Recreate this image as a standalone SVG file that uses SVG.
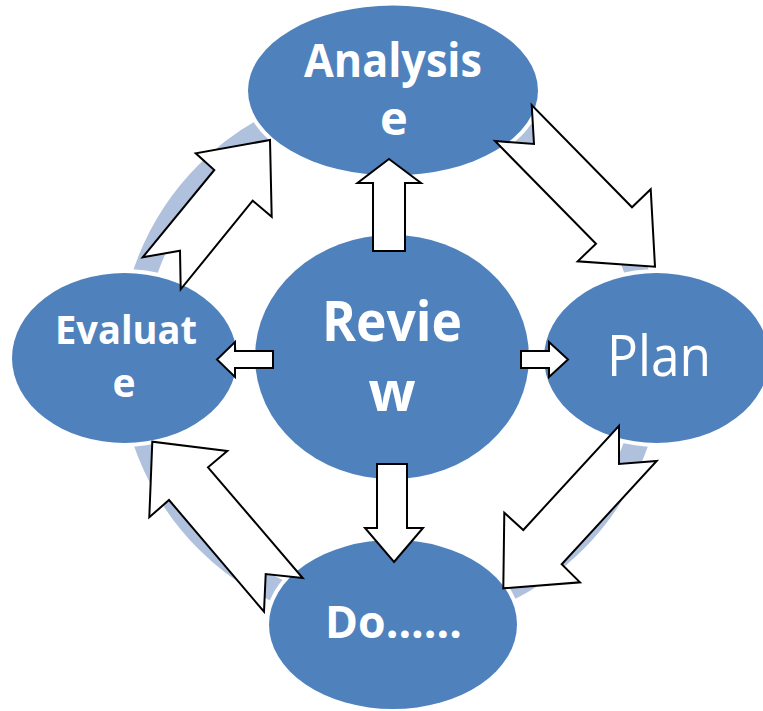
<svg xmlns="http://www.w3.org/2000/svg" width="763" height="711" viewBox="0 0 763 711">
  <style>
    .node { fill: #4f81bd; }
    .halo { stroke: #ffffff; stroke-width: 8; paint-order: stroke; }
    .arrow { fill: #ffffff; stroke: #000000; stroke-width: 2; stroke-linejoin: miter; }
    .lbl { fill: #ffffff; font-family: "Open Sans", "Noto Sans", sans-serif; text-anchor: middle; }
    .b { font-weight: bold; }
  </style>
  <rect width="763" height="711" fill="#ffffff"/>
  <g id="ring">
    <circle cx="391" cy="357" r="260" fill="none" stroke="#b0c1dd" stroke-width="24"/>
  </g>
  <g id="node-review">
    <ellipse class="node" cx="392" cy="357" rx="137" ry="122"/>
    <text class="lbl b" x="392" y="341" font-size="55" textLength="140" lengthAdjust="spacingAndGlyphs">Revie</text>
    <text class="lbl b" x="392" y="411" font-size="55">w</text>
  </g>
  <g id="node-analysis">
    <ellipse class="node halo" cx="393" cy="90.5" rx="145" ry="85"/>
    <text class="lbl b" x="393" y="77" font-size="47" textLength="178" lengthAdjust="spacingAndGlyphs">Analysis</text>
    <text class="lbl b" x="394" y="135" font-size="47">e</text>
  </g>
  <g id="node-evaluate">
    <ellipse class="node halo" cx="124.5" cy="358" rx="112.5" ry="85"/>
    <text class="lbl b" x="126" y="344" font-size="39" textLength="142" lengthAdjust="spacingAndGlyphs">Evaluat</text>
    <text class="lbl b" x="124" y="397" font-size="39">e</text>
  </g>
  <g id="node-plan">
    <ellipse class="node halo" cx="656.5" cy="358" rx="112.5" ry="85"/>
    <text class="lbl" x="659" y="376" font-size="56" textLength="104" lengthAdjust="spacingAndGlyphs">Plan</text>
  </g>
  <g id="node-do">
    <ellipse class="node halo" cx="393" cy="624.5" rx="124" ry="84.5"/>
    <text class="lbl b" x="393.5" y="638" font-size="44" textLength="137" lengthAdjust="spacingAndGlyphs">Do......</text>
  </g>
  <g id="connectors">
    <polygon class="arrow" points="389,159 421,183 405,183 405,251 373,251 373,183 357.5,183"/>
    <polygon class="arrow" points="394,562 423,528 407,528 407,464 377,464 377,528 365,528"/>
    <polygon class="arrow" points="217,359.5 235,342 235,351 273,351 273,368 235,368 235,377"/>
    <polygon class="arrow" points="568,359.5 549,342 549,351 521,351 521,368 549,368 549,377"/>
    <polygon class="arrow" points="531.7,105 534,144 495,141 596,243.7 577.7,261.3 655,266.7 650.7,189.3 632,207.3"/>
    <polygon class="arrow" points="180.7,289.3 180,250.7 142.7,257.3 214.3,170 195.7,153.3 270,140 271.7,216.7 252.7,200.7"/>
    <polygon class="arrow" points="619,425.7 619,464 656.7,461 561.7,564.3 580,582.3 503.3,588.3 504.3,512.7 523.3,530"/>
    <polygon class="arrow" points="264,611.7 265.7,574 302.7,578 208,467.3 227.3,451 152.3,441.7 149.3,517.3 169,500"/>
  </g>
</svg>
